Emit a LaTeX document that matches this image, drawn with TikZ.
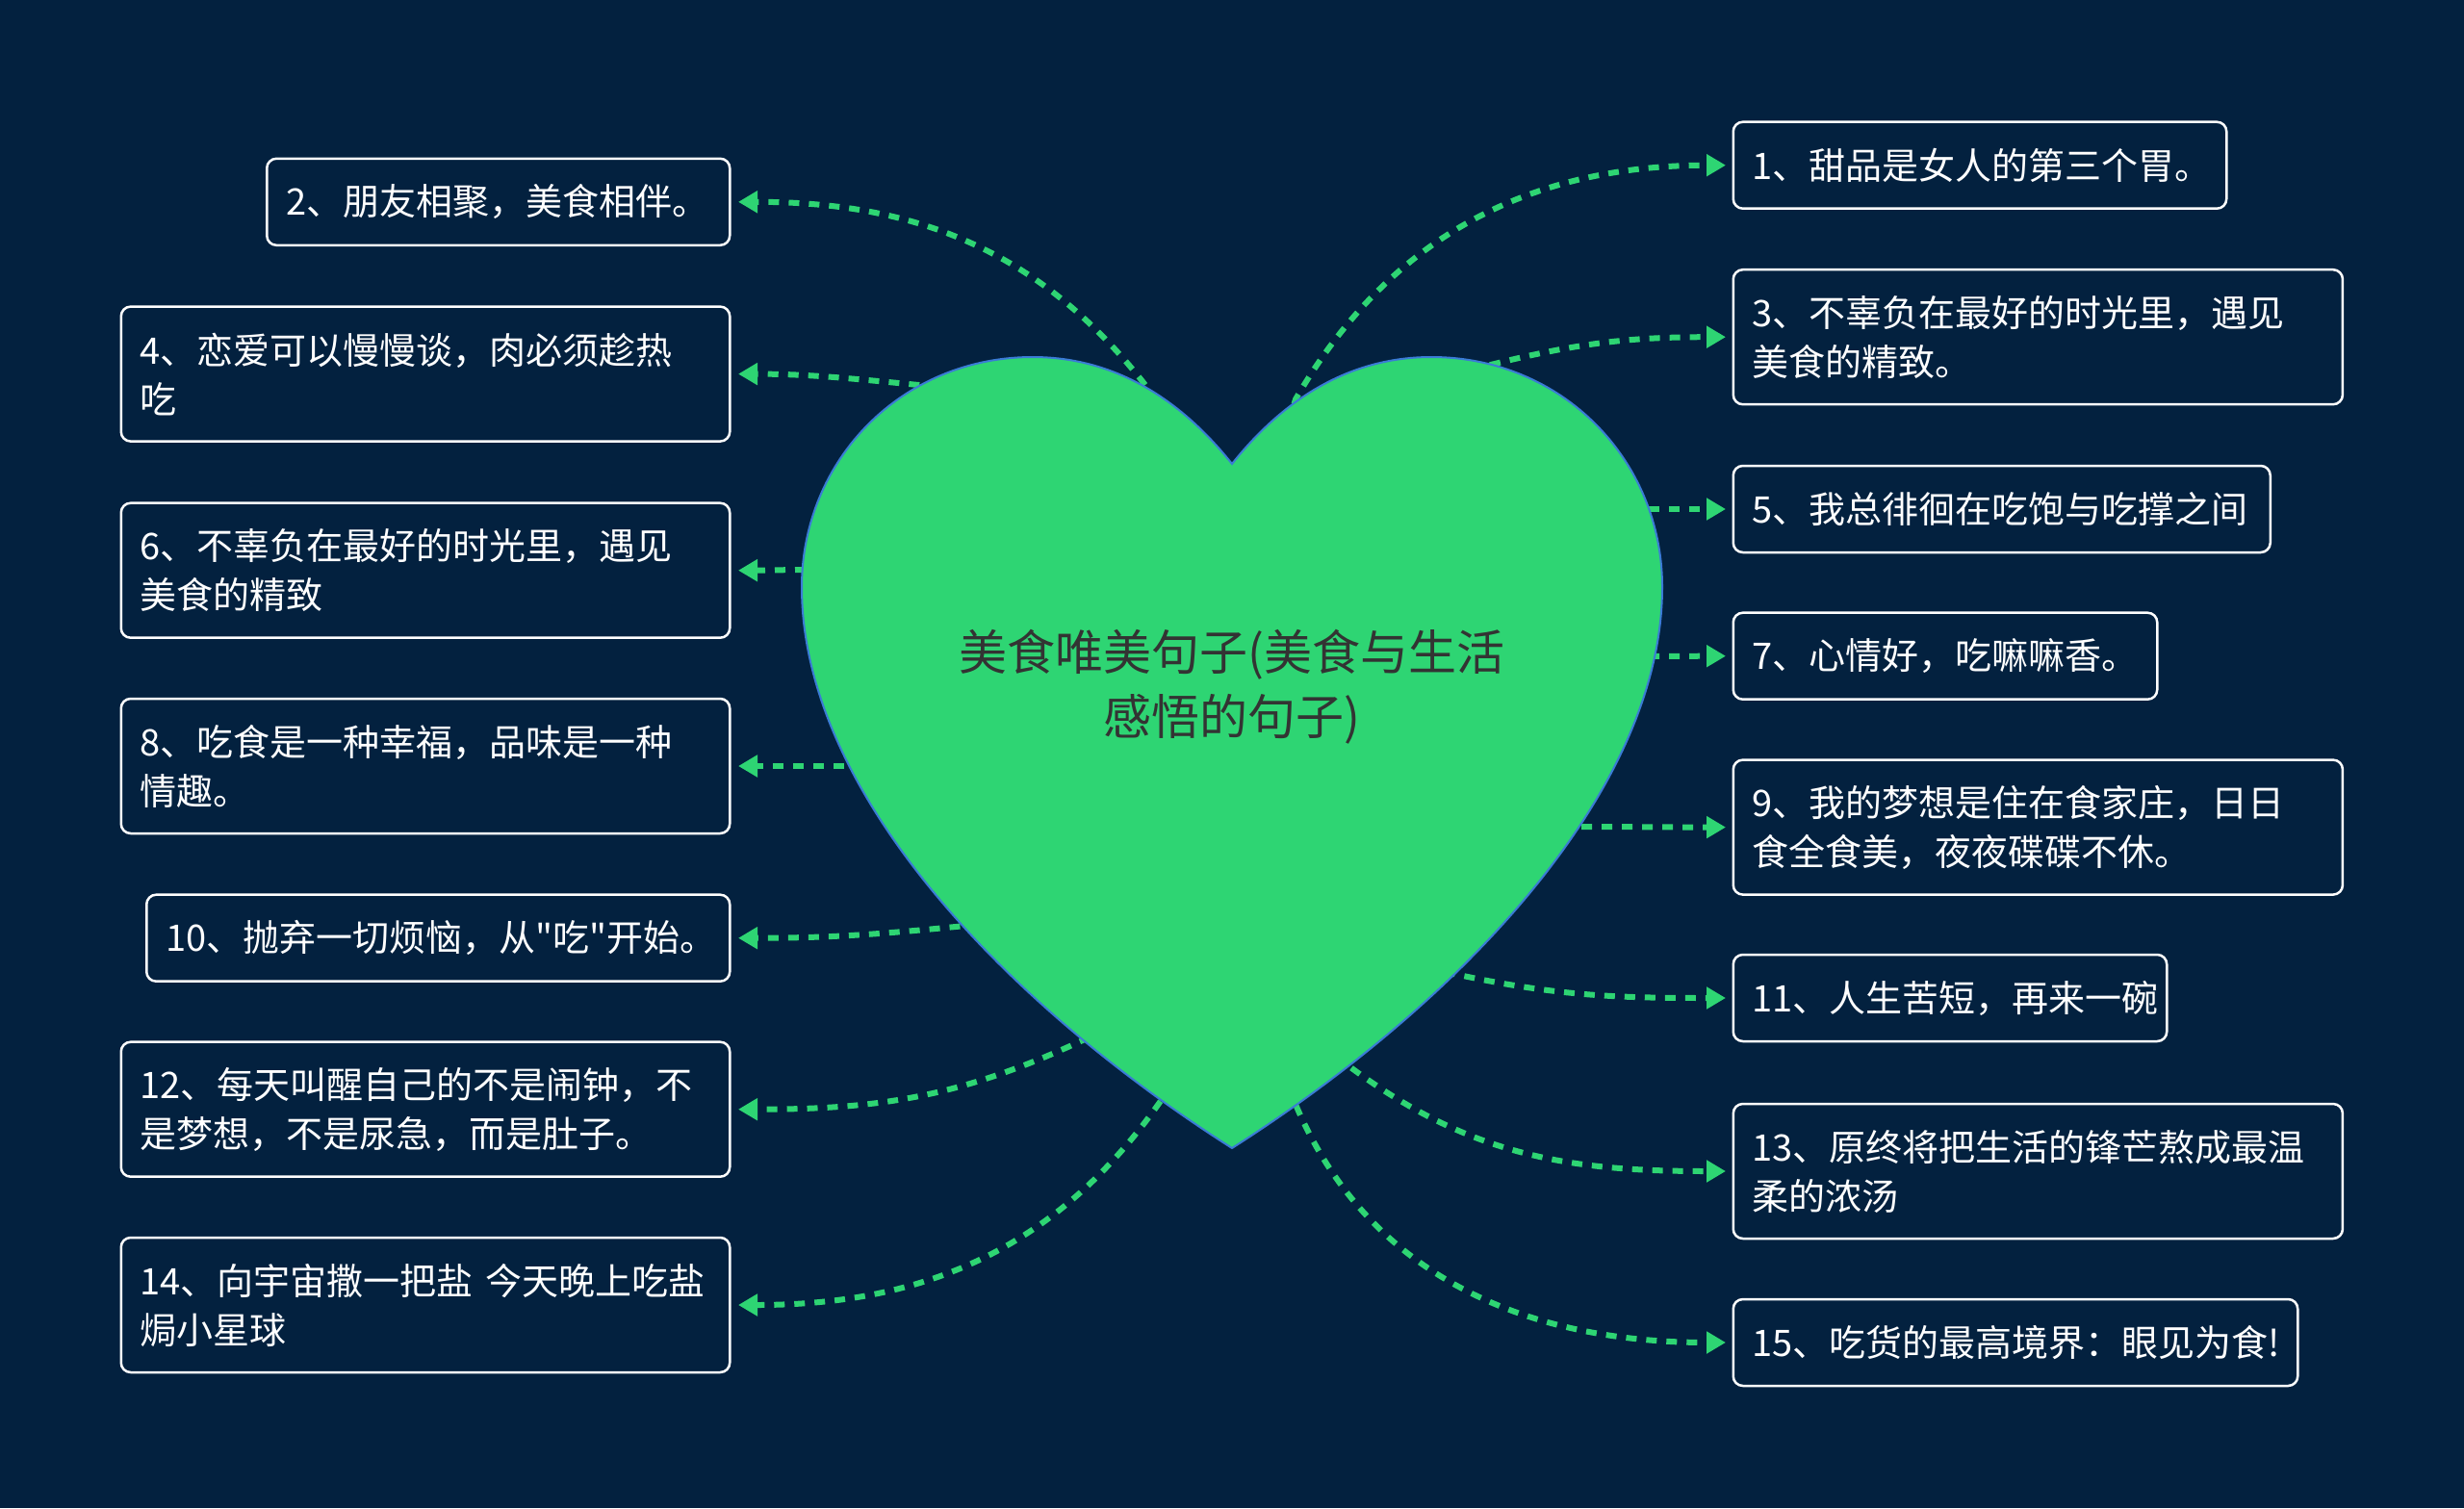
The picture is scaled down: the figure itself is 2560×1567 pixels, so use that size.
\documentclass[tikz,border=0pt]{standalone}
\usepackage{fontspec}
\setmainfont{Noto Sans CJK SC}
\newfontfamily\cjkplain{Noto Sans CJK SC}
\usetikzlibrary{arrows.meta}
\definecolor{bg}{HTML}{03213F}
\definecolor{hgreen}{HTML}{2ED573}
\definecolor{cgreen}{HTML}{2ED573}
\definecolor{hblue}{HTML}{3A7BD5}
\definecolor{ctext}{HTML}{333333}
\newcommand\boxfont{\cjkplain\fontsize{38}{51}\selectfont}
\newcommand\heartfont{\cjkplain\fontsize{50}{67}\selectfont}
\begin{document}
\begin{tikzpicture}[x=1pt,y=1pt,
  tb/.style={draw=white, line width=2.5pt, rounded corners=10pt, fill=bg, text=white,
    inner xsep=20pt, inner ysep=0pt, align=left, font=\boxfont, text width=#1},
  onel/.style={minimum height=90pt},
  twol/.style={minimum height=140pt},
  conn/.style={draw=cgreen, line width=6pt, dash pattern=on 11pt off 10pt,
    -{Triangle[length=20pt,width=22pt]}},
  heartstyle/.style={fill=hgreen, draw=hblue, line width=2pt}]
\fill[bg] (0,0) rectangle (2560,-1567);
\useasboundingbox (0,0) rectangle (2560,-1567);

% left boxes
\node[tb=441pt, onel, anchor=east] (b2) at (759.5,-209.8) {2、朋友相聚，美食相伴。};
\node[tb=592.5pt, twol, anchor=east] (b4) at (759.5,-388.6) {4、恋爱可以慢慢谈，肉必须趁热\\吃};
\node[tb=592.5pt, twol, anchor=east] (b6) at (759.5,-592.7) {6、不辜负在最好的时光里，遇见\\美食的精致};
\node[tb=592.5pt, twol, anchor=east] (b8) at (759.5,-796) {8、吃食是一种幸福，品味是一种\\情趣。};
\node[tb=566pt, onel, anchor=east] (b10) at (759.5,-974.7) {10、抛弃一切烦恼，从"吃"开始。};
\node[tb=592.5pt, twol, anchor=east] (b12) at (759.5,-1152.7) {12、每天叫醒自己的不是闹钟，不\\是梦想，不是尿急，而是肚子。};
\node[tb=592.5pt, twol, anchor=east] (b14) at (759.5,-1356) {14、向宇宙撒一把盐 今天晚上吃盐\\焗小星球};

% right boxes
\node[tb=472.5pt, onel, anchor=west] (b1) at (1799.5,-171.7) {1、甜品是女人的第三个胃。};
\node[tb=593.2pt, twol, anchor=west] (b3) at (1799.5,-350.2) {3、不辜负在最好的时光里，遇见\\美食的精致。};
\node[tb=518pt, onel, anchor=west] (b5) at (1799.5,-529) {5、我总徘徊在吃饱与吃撑之间};
\node[tb=400.5pt, onel, anchor=west] (b7) at (1799.5,-681.7) {7、心情好，吃嘛嘛香。};
\node[tb=593.2pt, twol, anchor=west] (b9) at (1799.5,-859.6) {9、我的梦想是住在食家庄，日日\\食全食美，夜夜碟碟不休。};
\node[tb=410.5pt, onel, anchor=west] (b11) at (1799.5,-1037) {11、人生苦短，再来一碗};
\node[tb=593.2pt, twol, anchor=west] (b13) at (1799.5,-1217) {13、原终将把生活的锋芒熬成最温\\柔的浓汤};
\node[tb=546.5pt, onel, anchor=west] (b15) at (1799.5,-1395) {15、吃货的最高境界：眼见为食!};

% hidden starts and exit points
\coordinate (s1) at (1320,-500);  \coordinate (p1) at (1346,-414.9);
\coordinate (s2) at (1215,-480);  \coordinate (p2) at (1190.9,-401.3);
\coordinate (s3) at (1500,-420);  \coordinate (p3) at (1549.2,-378.9);
\coordinate (s4) at (1010,-430);  \coordinate (p4) at (962,-400.7);
\coordinate (s5) at (1650,-529);  \coordinate (p5) at (1702,-529);
\coordinate (s6) at (900,-592);   \coordinate (p6) at (844,-592);
\coordinate (s7) at (1650,-682);  \coordinate (p7) at (1708,-682);
\coordinate (s8) at (940,-796);   \coordinate (p8) at (887,-796);
\coordinate (s9) at (1580,-859);  \coordinate (p9) at (1633,-859);
\coordinate (s10) at (1060,-955); \coordinate (p10) at (1011,-961.2);
\coordinate (s11) at (1460,-1000);\coordinate (p11) at (1508.9,-1011.6);
\coordinate (s12) at (1170,-1060);\coordinate (p12) at (1127.2,-1079.9);
\coordinate (s13) at (1370,-1085);\coordinate (p13) at (1400.3,-1106.9);
\coordinate (s14) at (1230,-1110);\coordinate (p14) at (1206.3,-1143.4);
\coordinate (s15) at (1330,-1110);\coordinate (p15) at (1346.8,-1149.3);

% connectors
\draw[conn] (s1) -- (p1) to[out=60,in=180] ([xshift=-6.5pt]b1.west);
\draw[conn] (s2) -- (p2) to[out=128,in=0] ([xshift=7.5pt]b2.east);
\draw[conn] (s3) -- (p3) to[out=14,in=180] ([xshift=-6.5pt]b3.west);
\draw[conn] (s4) -- (p4) to[out=174.7,in=0] ([xshift=7.5pt]b4.east);
\draw[conn] (s5) -- (p5) to[out=0,in=180] ([xshift=-6.5pt]b5.west);
\draw[conn] (s6) -- (p6) to[out=180,in=0] ([xshift=7.5pt]b6.east);
\draw[conn] (s7) -- (p7) to[out=0,in=180] ([xshift=-6.5pt]b7.west);
\draw[conn] (s8) -- (p8) to[out=180,in=0] ([xshift=7.5pt]b8.east);
\draw[conn] (s9) -- (p9) to[out=0,in=180] ([xshift=-6.5pt]b9.west);
\draw[conn] (s10) -- (p10) to[out=185.7,in=0] ([xshift=7.5pt]b10.east);
\draw[conn] (s11) -- (p11) to[out=-12.2,in=180] ([xshift=-6.5pt]b11.west);
\draw[conn] (s12) -- (p12) to[out=205,in=0] ([xshift=7.5pt]b12.east);
\draw[conn] (s13) -- (p13) to[out=-36.9,in=180] ([xshift=-6.5pt]b13.west);
\draw[conn] (s14) -- (p14) to[out=235,in=0] ([xshift=7.5pt]b14.east);
\draw[conn] (s15) -- (p15) to[out=-66.8,in=180] ([xshift=-6.5pt]b15.west);

% heart
\draw[heartstyle] (1280,-482)
  .. controls (1237,-428) and (1170,-371) .. (1073,-371)
  .. controls (937,-371) and (833,-478) .. (833,-610)
  .. controls (833,-820) and (1040,-1040) .. (1280,-1193)
  .. controls (1520,-1040) and (1727,-820) .. (1727,-610)
  .. controls (1727,-478) and (1623,-371) .. (1487,-371)
  .. controls (1390,-371) and (1323,-428) .. (1280,-482) -- cycle;

\node[font=\heartfont, text=ctext, align=center] (title) at (1280,-714) {美食唯美句子(美食与生活\\感悟的句子)};
\end{tikzpicture}
\end{document}
